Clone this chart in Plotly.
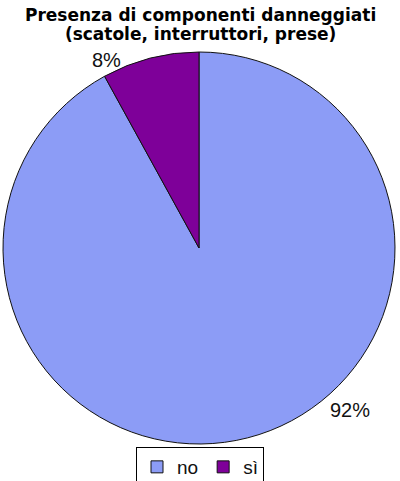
import plotly.graph_objects as go

labels = ["no", "sì"]
values = [92, 8]
colors = ["#8C9CF6", "#7E0099"]
title_lines = ["Presenza di componenti danneggiati", "(scatole, interruttori, prese)"]

W, H = 400, 481

fig = go.Figure(go.Pie(
    labels=labels,
    values=values,
    sort=False,
    direction="clockwise",
    rotation=0,
    marker=dict(colors=colors, line=dict(color="#111111", width=1)),
    textinfo="none",
    hoverinfo="label+percent",
    domain=dict(x=[3 / W, 395 / W], y=[1 - 444 / H, 1 - 52 / H]),
))

label_pos = [(350, 410), (106, 60)]
for v, (px, py) in zip(values, label_pos):
    fig.add_annotation(
        x=px / W, y=1 - py / H, xref="paper", yref="paper",
        text=f"{v}%", showarrow=False,
        font=dict(family="Liberation Sans, Arial", size=20, color="#111111"),
        xanchor="center", yanchor="middle",
    )

# single text block: glyphs at 17px, line spacing from 14.5px base font (~19px)
title_text = "<br>".join(
    f"<span style='font-size:17px'><b>{t}</b></span>" for t in title_lines
)
fig.add_annotation(
    x=0.5, y=1 - 24 / H, xref="paper", yref="paper",
    text=title_text, showarrow=False,
    font=dict(family="DejaVu Sans, Verdana", size=14.5, color="#000000"),
    xanchor="center", yanchor="middle",
)

fig.update_layout(
    width=W, height=H,
    margin=dict(l=0, r=0, t=0, b=0, autoexpand=False),
    paper_bgcolor="white",
    plot_bgcolor="white",
    showlegend=True,
    legend=dict(
        orientation="h",
        x=0.5, xanchor="center",
        y=1 - 447 / H, yanchor="top",
        bordercolor="#000000", borderwidth=1,
        font=dict(family="Liberation Sans, Arial", size=19, color="#111111"),
        itemwidth=30,
        tracegroupgap=0,
    ),
)

fig.write_html("out.html", config={"displayModeBar": False},
               post_script="document.body.style.margin='0';")
